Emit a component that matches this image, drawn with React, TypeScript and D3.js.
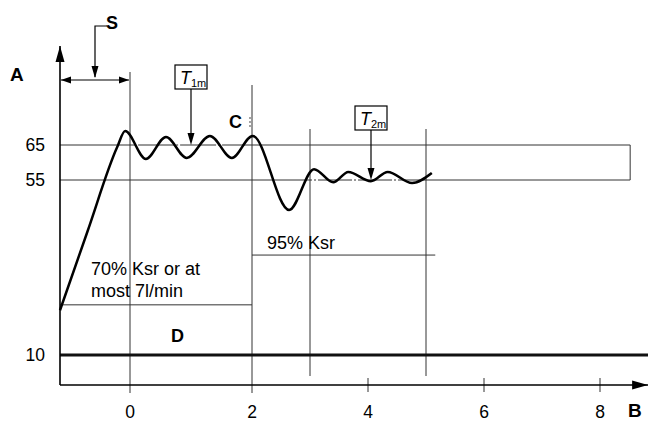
import React from "react";
import * as d3 from "d3";

const xTicks = [0, 2, 4, 6, 8];
const yTicks = [10, 55, 65];
const curveX = [-1.15, -0.7, -0.21, -0.08, 0.26, 0.59, 0.93, 1.31, 1.67, 2.01, 2.64, 3.07, 3.4, 3.66, 4.05, 4.34, 4.76, 5.1];
const curveY = [21.5, 41.7, 64.4, 69.0, 61.0, 67.3, 61.3, 67.6, 61.3, 67.6, 47.3, 58.1, 54.4, 57.3, 54.7, 57.3, 54.2, 57.0];
const bandLow = 55;
const bandHigh = 65;
const bandEnd = 8.52;
const minLevel = 10;
const ksr70 = 22.9;
const ksr95 = 35.7;
const ksr95End = 5.16;
const xMin = -1.15;
const xMax = 8.83;
const markerLines = [0, 2, 3, 5];

const W = 648;
const H = 423;
const x = d3.scaleLinear().domain([xMin, 0, 2, 8]).range([60, 130, 252, 600]);
const y = d3.scaleLinear().domain([0, 10, 55, 65]).range([385, 355, 180, 145]);

const FONT = "'Liberation Sans', Arial, Helvetica, sans-serif";

export default function App() {
  const pts: [number, number][] = curveX.map((v, i) => [v, curveY[i]]);
  const line = d3
    .line<[number, number]>()
    .x((d) => x(d[0]))
    .y((d) => y(d[1]))
    .curve(d3.curveMonotoneX);
  const x0 = x(xMin);
  const yAxis = y(0);
  const thin = { stroke: "#333", strokeWidth: 1, fill: "none" };
  return (
    <svg
      width={W}
      height={H}
      style={{ position: "absolute", left: 0, top: 0, background: "#fff" }}
      fontFamily={FONT}
    >
      <defs>
        <marker id="ah" viewBox="0 0 10 10" refX="10" refY="5" markerWidth="10" markerHeight="10" markerUnits="userSpaceOnUse" orient="auto-start-reverse">
          <path d="M0,1.5 L10,5 L0,8.5 Z" fill="#000" />
        </marker>
        <marker id="big" viewBox="0 0 16 10" refX="16" refY="5" markerWidth="16" markerHeight="10" markerUnits="userSpaceOnUse" orient="auto">
          <path d="M0,0.5 L16,5 L0,9.5 Z" fill="#000" />
        </marker>
      </defs>

      {/* band lines 65 & 55 */}
      <line x1={x0} x2={x(0.1)} y1={y(bandHigh)} y2={y(bandHigh)} {...thin} />
      <line x1={x(0.1)} x2={x(2)} y1={y(bandHigh)} y2={y(bandHigh)} {...thin} strokeDasharray="36,2,2,2" strokeDashoffset={-2} />
      <line x1={x(2)} x2={x(bandEnd)} y1={y(bandHigh)} y2={y(bandHigh)} {...thin} />
      <line x1={x0} x2={x(3)} y1={y(bandLow)} y2={y(bandLow)} {...thin} />
      <line x1={x(3)} x2={x(5)} y1={y(bandLow)} y2={y(bandLow)} {...thin} strokeDasharray="34,2,2,2" strokeDashoffset={-8} />
      <line x1={x(5)} x2={x(bandEnd)} y1={y(bandLow)} y2={y(bandLow)} {...thin} />
      <line x1={x(bandEnd)} x2={x(bandEnd)} y1={y(bandHigh)} y2={y(bandLow)} {...thin} />

      {/* Ksr lines */}
      <line x1={x0} x2={x(2)} y1={y(ksr70)} y2={y(ksr70)} {...thin} />
      <line x1={x(2)} x2={x(ksr95End)} y1={y(ksr95)} y2={y(ksr95)} {...thin} />

      {/* vertical marker lines */}
      <line x1={x(markerLines[0])} x2={x(markerLines[0])} y1={72} y2={393} {...thin} />
      <line x1={x(markerLines[1])} x2={x(markerLines[1])} y1={85} y2={393} {...thin} />
      <line x1={x(markerLines[2])} x2={x(markerLines[2])} y1={129} y2={376} {...thin} />
      <line x1={x(markerLines[3])} x2={x(markerLines[3])} y1={129} y2={376} {...thin} />

      {/* x ticks */}
      {xTicks.filter((t) => t > 2).map((t) => (
        <line key={t} x1={x(t)} x2={x(t)} y1={378} y2={392} {...thin} />
      ))}
      {xTicks.map((t) => (
        <text key={"xl" + t} x={x(t)} y={418} fontSize={17.5} textAnchor="middle" fill="#000">
          {t}
        </text>
      ))}
      {yTicks.map((t) => (
        <text key={"yl" + t} x={45} y={y(t) + 6} fontSize={17.5} textAnchor="end" fill="#000">
          {t}
        </text>
      ))}

      {/* minimum level line */}
      <line x1={x0} x2={W} y1={y(minLevel)} y2={y(minLevel)} stroke="#111" strokeWidth={3} />

      {/* axes */}
      <line x1={x0} x2={x0} y1={yAxis} y2={46} stroke="#000" strokeWidth={1.6} markerEnd="url(#big)" />
      <line x1={x0} x2={x(xMax)} y1={yAxis} y2={yAxis} stroke="#000" strokeWidth={1.6} markerEnd="url(#big)" />

      {/* curve */}
      <path d={line(pts) || ""} fill="none" stroke="#000" strokeWidth={2.5} strokeLinejoin="round" />

      {/* S annotation */}
      <line x1={x0 + 1} x2={x(0) - 1} y1={80} y2={80} stroke="#000" strokeWidth={1.2} markerStart="url(#ah)" markerEnd="url(#ah)" />
      <polyline points="107,26 95,26 95,77" fill="none" stroke="#000" strokeWidth={1.2} />
      <path d="M91.5,66 L95,78 L98.5,66 Z" fill="#000" />
      <text x={106} y={29} fontSize={18} fontWeight="bold" fill="#000">S</text>

      {/* axis labels */}
      <text x={10} y={81} fontSize={19} fontWeight="bold" fill="#000">A</text>
      <text x={628} y={417} fontSize={19} fontWeight="bold" fill="#000">B</text>
      <text x={229} y={128} fontSize={18} fontWeight="bold" fill="#000">C</text>
      <line x1={250} x2={250} y1={117} y2={128} stroke="#666" strokeWidth={1.2} strokeDasharray="2,2" />
      <text x={171} y={342} fontSize={18} fontWeight="bold" fill="#000">D</text>

      {/* Ksr labels */}
      <text x={91} y={275} fontSize={18} fill="#000">70% Ksr or at</text>
      <text x={91} y={297} fontSize={18} fill="#000">most 7l/min</text>
      <text x={267} y={249} fontSize={18} fill="#000">95% Ksr</text>

      {/* T1m */}
      <rect x={175} y={65} width={32} height={24} fill="#fff" stroke="#000" strokeWidth={1.2} />
      <text x={180} y={84} fontSize={18} fill="#000">
        <tspan fontStyle="italic">T</tspan>
        <tspan fontSize={11} dy={3}>1m</tspan>
      </text>
      <line x1={191} x2={191} y1={89} y2={141} stroke="#000" strokeWidth={1.2} />
      <path d="M187.5,133 L191,145 L194.5,133 Z" fill="#000" />

      {/* T2m */}
      <rect x={355} y={106} width={32} height={24} fill="#fff" stroke="#000" strokeWidth={1.2} />
      <text x={360} y={125} fontSize={18} fill="#000">
        <tspan fontStyle="italic">T</tspan>
        <tspan fontSize={11} dy={3}>2m</tspan>
      </text>
      <line x1={371} x2={371} y1={130} y2={176} stroke="#000" strokeWidth={1.2} />
      <path d="M367.5,168 L371,180 L374.5,168 Z" fill="#000" />
    </svg>
  );
}
